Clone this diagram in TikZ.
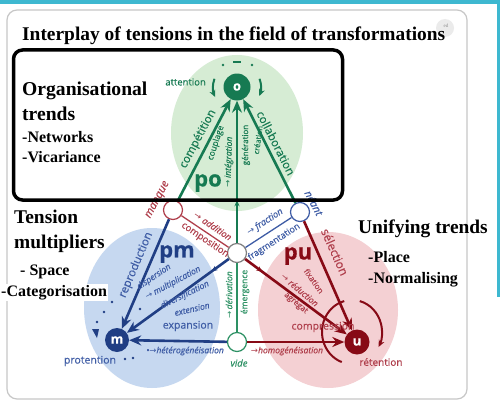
\documentclass[tikz,border=0pt]{standalone}
\usepackage{fontspec}
\setmainfont{Liberation Serif}
\newfontfamily\diagfont{Open Sans}[FakeBold=0.35]
\newfontfamily\arrfont{DejaVu Sans}
\usetikzlibrary{arrows.meta, positioning, decorations.markings}

\definecolor{teal}{RGB}{62,184,208}
\definecolor{gfill}{RGB}{214,236,212}
\definecolor{bfill}{RGB}{198,216,240}
\definecolor{rfill}{RGB}{244,208,211}
\definecolor{gdark}{RGB}{22,122,82}
\definecolor{bdark}{RGB}{32,62,132}
\definecolor{rdark}{RGB}{135,10,22}
\definecolor{glbl}{RGB}{45,145,100}
\definecolor{blbl}{RGB}{62,92,165}
\definecolor{rlbl}{RGB}{175,62,75}

\newcommand{\ra}{{\arrfont\char"2192}}
\newcommand{\fs}[1]{\fontsize{#1}{#1}\selectfont}

\begin{document}
\begin{tikzpicture}[x=1pt, y=-1pt,
		pole/.style={circle, fill=#1, text=white, minimum size=25pt, inner sep=0pt, font=\diagfont\bfseries\fs{13}},
		hub/.style={circle, draw=#1, fill=white, line width=1.2pt, minimum size=19pt, inner sep=0pt},
		lbl/.style={text=#1, inner sep=0pt, font=\diagfont\fs{9}},
		ilbl/.style={text=#1, inner sep=0pt, font=\diagfont\itshape\fs{9}},
		big/.style={text=#1, inner sep=0pt, font=\diagfont\bfseries\fs{22}},
		side/.style={anchor=base west, inner sep=0pt, font=\bfseries\fs{#1}},
		heavy/.style={color=#1, line width=2.6pt, -{Stealth[length=12pt, width=10pt]}},
		light/.style={color=#1, line width=1.3pt},
		midtip/.style={postaction={decorate}, decoration={markings, mark=at position #1 with {\arrow{Stealth[length=6pt, width=5pt]}}}},
		turn/.style={color=#1, line width=2pt, -{Stealth[length=7pt, width=6pt]}}
		]
		\useasboundingbox (0,0) rectangle (500,404);
		\fill[white] (0,0) rectangle (500,404);
		\fill[teal] (0,0) rectangle (500,4.5);
		\fill[teal] (497,0) rectangle (500,297);
		\draw[black!22, line width=1.2pt, rounded corners=10pt] (7,10) rectangle (467,399);
		\fill[black!8] (445,28) circle (9);
		\node[text=black!45, font=\fs{5}] (badge) at (446,26) {ed};

		% fields
		\fill[gfill] (237,133) ellipse [x radius=66, y radius=78];
		\fill[bfill] (152,308) ellipse [x radius=68, y radius=80];
		\fill[rfill] (328,310) ellipse [x radius=70, y radius=78];

		% poles and junctions
		\node[pole=gdark, minimum size=27pt] (o) at (237,87) {o};
		\node[pole=bdark, minimum size=24pt] (m) at (117,340) {m};
		\node[pole=rdark, minimum size=25pt] (u) at (357,342) {u};
		\node[hub=rlbl] (manque) at (173,210) {};
		\node[hub=blbl] (neant) at (300,212) {};
		\node[hub=gray] (mid) at (237,253) {};
		\node[hub=glbl] (vide) at (237,342) {};
		\coordinate (uc) at (352,332);

		% connectors
		\draw[heavy=gdark] (manque) -- (o);
		\draw[heavy=gdark] (neant) -- (o);
		\draw[heavy=gdark, line width=1.5pt, midtip=0.3] (mid) -- (o);
		\draw[light=glbl] (vide) -- (mid);
		\draw[heavy=bdark] (manque) -- (m);
		\draw[heavy=bdark, midtip=0.17] (mid) -- (m);
		\draw[heavy=bdark] (vide) -- (m);
		\draw[light=blbl] (neant) -- (mid);
		\draw[light=rlbl] (manque) -- (mid);
		\draw[heavy=rdark, midtip=0.17] (mid) -- (u);
		\draw[heavy=rdark] (neant) -- (u);
		\draw[heavy=rdark] (vide) -- (u);

		% loops round the poles
		\draw[turn=gdark] (o) ++(-160:24) arc[start angle=-160, end angle=-205, radius=24];
		\draw[turn=gdark] (o) ++(-20:24) arc[start angle=-20, end angle=22, radius=24];
		\fill[gdark] (o) ++(-14,-22) circle (1.4);
		\fill[gdark] (o) ++(15,-22) circle (1.4);
		\draw[gdark, line width=2pt] (o) ++(-4,-25) -- ++(8,0);
		\draw[rdark, line width=2pt] (uc) ++(-105:30 and 32) arc[start angle=-105, end angle=-250, x radius=30, y radius=32];
		\draw[turn=rdark] (uc) ++(-75:30 and 32) arc[start angle=-75, end angle=28, x radius=30, y radius=32];
		\foreach \dx/\dy in {-5/-38, -13/-28, -20/-18, 23/-31, 8/19, 16/18}
			\fill[bdark] (m) ++(\dx,\dy) circle (1.4);
		\fill[bdark] (m) ++(-25,-11) -- ++(7,0) -- ++(-2,9) -- cycle;

		% green labels
		\node[lbl=gdark, font=\diagfont\fs{9.5}, anchor=east] (att) at (206,82) {attention};
		\node[lbl=gdark, font=\diagfont\fs{11.5}, rotate=62] (comp) at (198,139) {compétition};
		\node[lbl=gdark, font=\diagfont\fs{8.5}, rotate=72] (coup) at (216,143) {couplage};
		\node[ilbl=gdark, font=\diagfont\itshape\fs{8.5}, rotate=88] (integ) at (229,162) {\ra{} intégration};
		\node[lbl=gdark, font=\diagfont\fs{8}, rotate=90] (gen) at (246,145) {génération};
		\node[lbl=gdark, font=\diagfont\fs{7.5}, rotate=82] (crea) at (258,140) {création};
		\node[lbl=gdark, font=\diagfont\fs{11.5}, rotate=-63] (collab) at (276,143) {collaboration};
		\node[big=gdark] (po) at (208,183) {po};

		% blue labels
		\node[lbl=blbl, font=\diagfont\fs{11.5}, rotate=67] (repro) at (136,265) {reproduction};
		\node[big=bdark] (pm) at (177,254) {pm};
		\node[ilbl=blbl, font=\diagfont\itshape\fs{8.5}, rotate=34] (disp) at (154,277) {dispersion};
		\node[ilbl=blbl, font=\diagfont\itshape\fs{8.5}, rotate=28] (multi) at (173,283) {\ra{} multiplication};
		\node[ilbl=blbl, font=\diagfont\itshape\fs{8.5}, rotate=26] (diver) at (185,295) {diversification};
		\node[ilbl=blbl, font=\diagfont\itshape\fs{8.5}, rotate=13] (exten) at (192,309) {extension};
		\node[lbl=blbl, font=\diagfont\fs{10.5}] (expan) at (188,326) {expansion};
		\node[ilbl=blbl, font=\diagfont\itshape\fs{8.5}] (hetero) at (185,351) {•\ra hétérogénéisation};
		\node[lbl=blbl, font=\diagfont\fs{10.5}] (prot) at (90,361) {protention};
		\node[ilbl=rlbl, font=\diagfont\itshape\fs{11}, rotate=62] (manq) at (158,200) {manque};

		% red labels
		\node[ilbl=rlbl, rotate=-34] (addit) at (213,226) {\ra{} addition};
		\node[lbl=rlbl, font=\diagfont\fs{9.5}, rotate=-34] (compo) at (205,240) {composition};
		\node[big=rdark] (pu) at (298,256) {pu};
		\node[ilbl=blbl, rotate=33] (fract) at (265,222) {\ra{} fraction};
		\node[lbl=blbl, rotate=33] (fragm) at (274,242) {fragmentation};
		\node[ilbl=blbl, font=\diagfont\itshape\fs{10.5}, rotate=-62] (nean) at (314,203) {néant};
		\node[lbl=rlbl, font=\diagfont\fs{12}, rotate=-66] (select) at (335,252) {sélection};
		\node[lbl=rlbl, font=\diagfont\fs{8}, rotate=-55] (fix) at (314,281) {fixation};
		\node[ilbl=rlbl, font=\diagfont\itshape\fs{8.5}, rotate=-40] (reduc) at (300,290) {\ra{} réduction};
		\node[lbl=rlbl, font=\diagfont\fs{8}, rotate=-40] (agreg) at (296,303) {agrégat};
		\node[lbl=rlbl, font=\diagfont\fs{10.5}] (compr) at (323,327) {compression};
		\node[ilbl=rlbl, font=\diagfont\itshape\fs{8.5}] (homog) at (287,351) {\ra homogénéisation};
		\node[lbl=rlbl, font=\diagfont\fs{10}] (reten) at (381,362) {rétention};

		% emergence axis
		\node[ilbl=glbl, font=\diagfont\itshape\fs{8.5}, rotate=90] (deriv) at (229,295) {\ra{} dérivation};
		\node[lbl=glbl, font=\diagfont\fs{8.5}, rotate=90] (emerg) at (245,292) {émergence};
		\node[ilbl=glbl, font=\diagfont\itshape\fs{9.5}] (vid) at (239,363) {vide};

		% overlay texts
		\node[side=19.4] (title) at (22,40.5) {Interplay of tensions in the field of transformations};
		\draw[black, line width=3.5pt, rounded corners=9pt] (13.5,50) rectangle (342.5,200);
		\node[side=19.6] (org) at (22,95) {Organisational};
		\node[side=19.6] (trends) at (22,120) {trends};
		\node[side=16] (netw) at (22,142) {-Networks};
		\node[side=16] (vica) at (22,162) {-Vicariance};
		\node[side=19.4] (tens) at (14,223) {Tension};
		\node[side=19.4] (multip) at (14,248) {multipliers};
		\node[side=16] (space) at (20,275) {- Space};
		\node[side=16, fill=white, inner sep=1pt] (categ) at (0,296) {-Categorisation};
		\node[side=19.4] (unif) at (358,233) {Unifying trends};
		\node[side=16] (place) at (368,262) {-Place};
		\node[side=16] (norm) at (368,283) {-Normalising};
	\end{tikzpicture}
\end{document}
